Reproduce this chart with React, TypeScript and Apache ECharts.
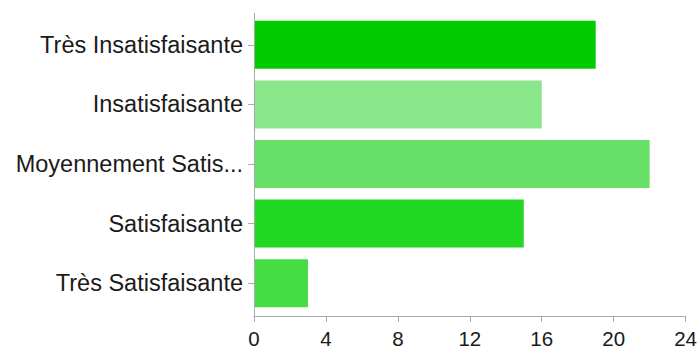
import React, { useEffect, useRef } from "react";
import * as echarts from "echarts";

const categories = [
  "Très Insatisfaisante",
  "Insatisfaisante",
  "Moyennement Satis...",
  "Satisfaisante",
  "Très Satisfaisante",
];
const values = [19, 16, 22, 15, 3];
const barColors = ["#00cc00", "#8ae68a", "#66e066", "#22d822", "#44dd44"];
const xTicks = { min: 0, max: 24, interval: 4 };

export default function App() {
  const ref = useRef<HTMLDivElement>(null);
  useEffect(() => {
    if (!ref.current) return;
    const chart = echarts.init(ref.current, undefined, { renderer: "svg" });
    const font = "'Liberation Sans', Arial, Helvetica, sans-serif";
    chart.setOption({
      animation: false,
      grid: { left: 254, right: 14, top: 15, height: 300 },
      graphic: [
        {
          type: "line",
          shape: { x1: 254.5, y1: 13, x2: 254.5, y2: 318 },
          style: { stroke: "#aaaaaa", lineWidth: 1 },
          z: 10,
        },
      ],
      xAxis: {
        type: "value",
        min: xTicks.min,
        max: xTicks.max,
        interval: xTicks.interval,
        offset: 3,
        axisLine: { show: true, lineStyle: { color: "#aaaaaa" } },
        axisTick: { show: true, length: 6, lineStyle: { color: "#aaaaaa" } },
        splitLine: { show: false },
        axisLabel: { color: "#1a1a1a", fontSize: 20.5, fontFamily: font, margin: 12 },
      },
      yAxis: {
        type: "category",
        data: categories,
        inverse: true,
        axisLine: { show: false },
        axisTick: { show: true, length: 6, alignWithLabel: true, lineStyle: { color: "#aaaaaa" } },
        axisLabel: { color: "#1a1a1a", fontSize: 23.5, fontFamily: font, margin: 11 },
      },
      series: [
        {
          type: "bar",
          data: values.map((v, i) => ({ value: v, itemStyle: { color: barColors[i] } })),
          barWidth: 48,
        },
      ],
    });
    return () => chart.dispose();
  }, []);
  return <div ref={ref} style={{ width: 700, height: 349, position: "absolute", left: 0, top: 0 }} />;
}
